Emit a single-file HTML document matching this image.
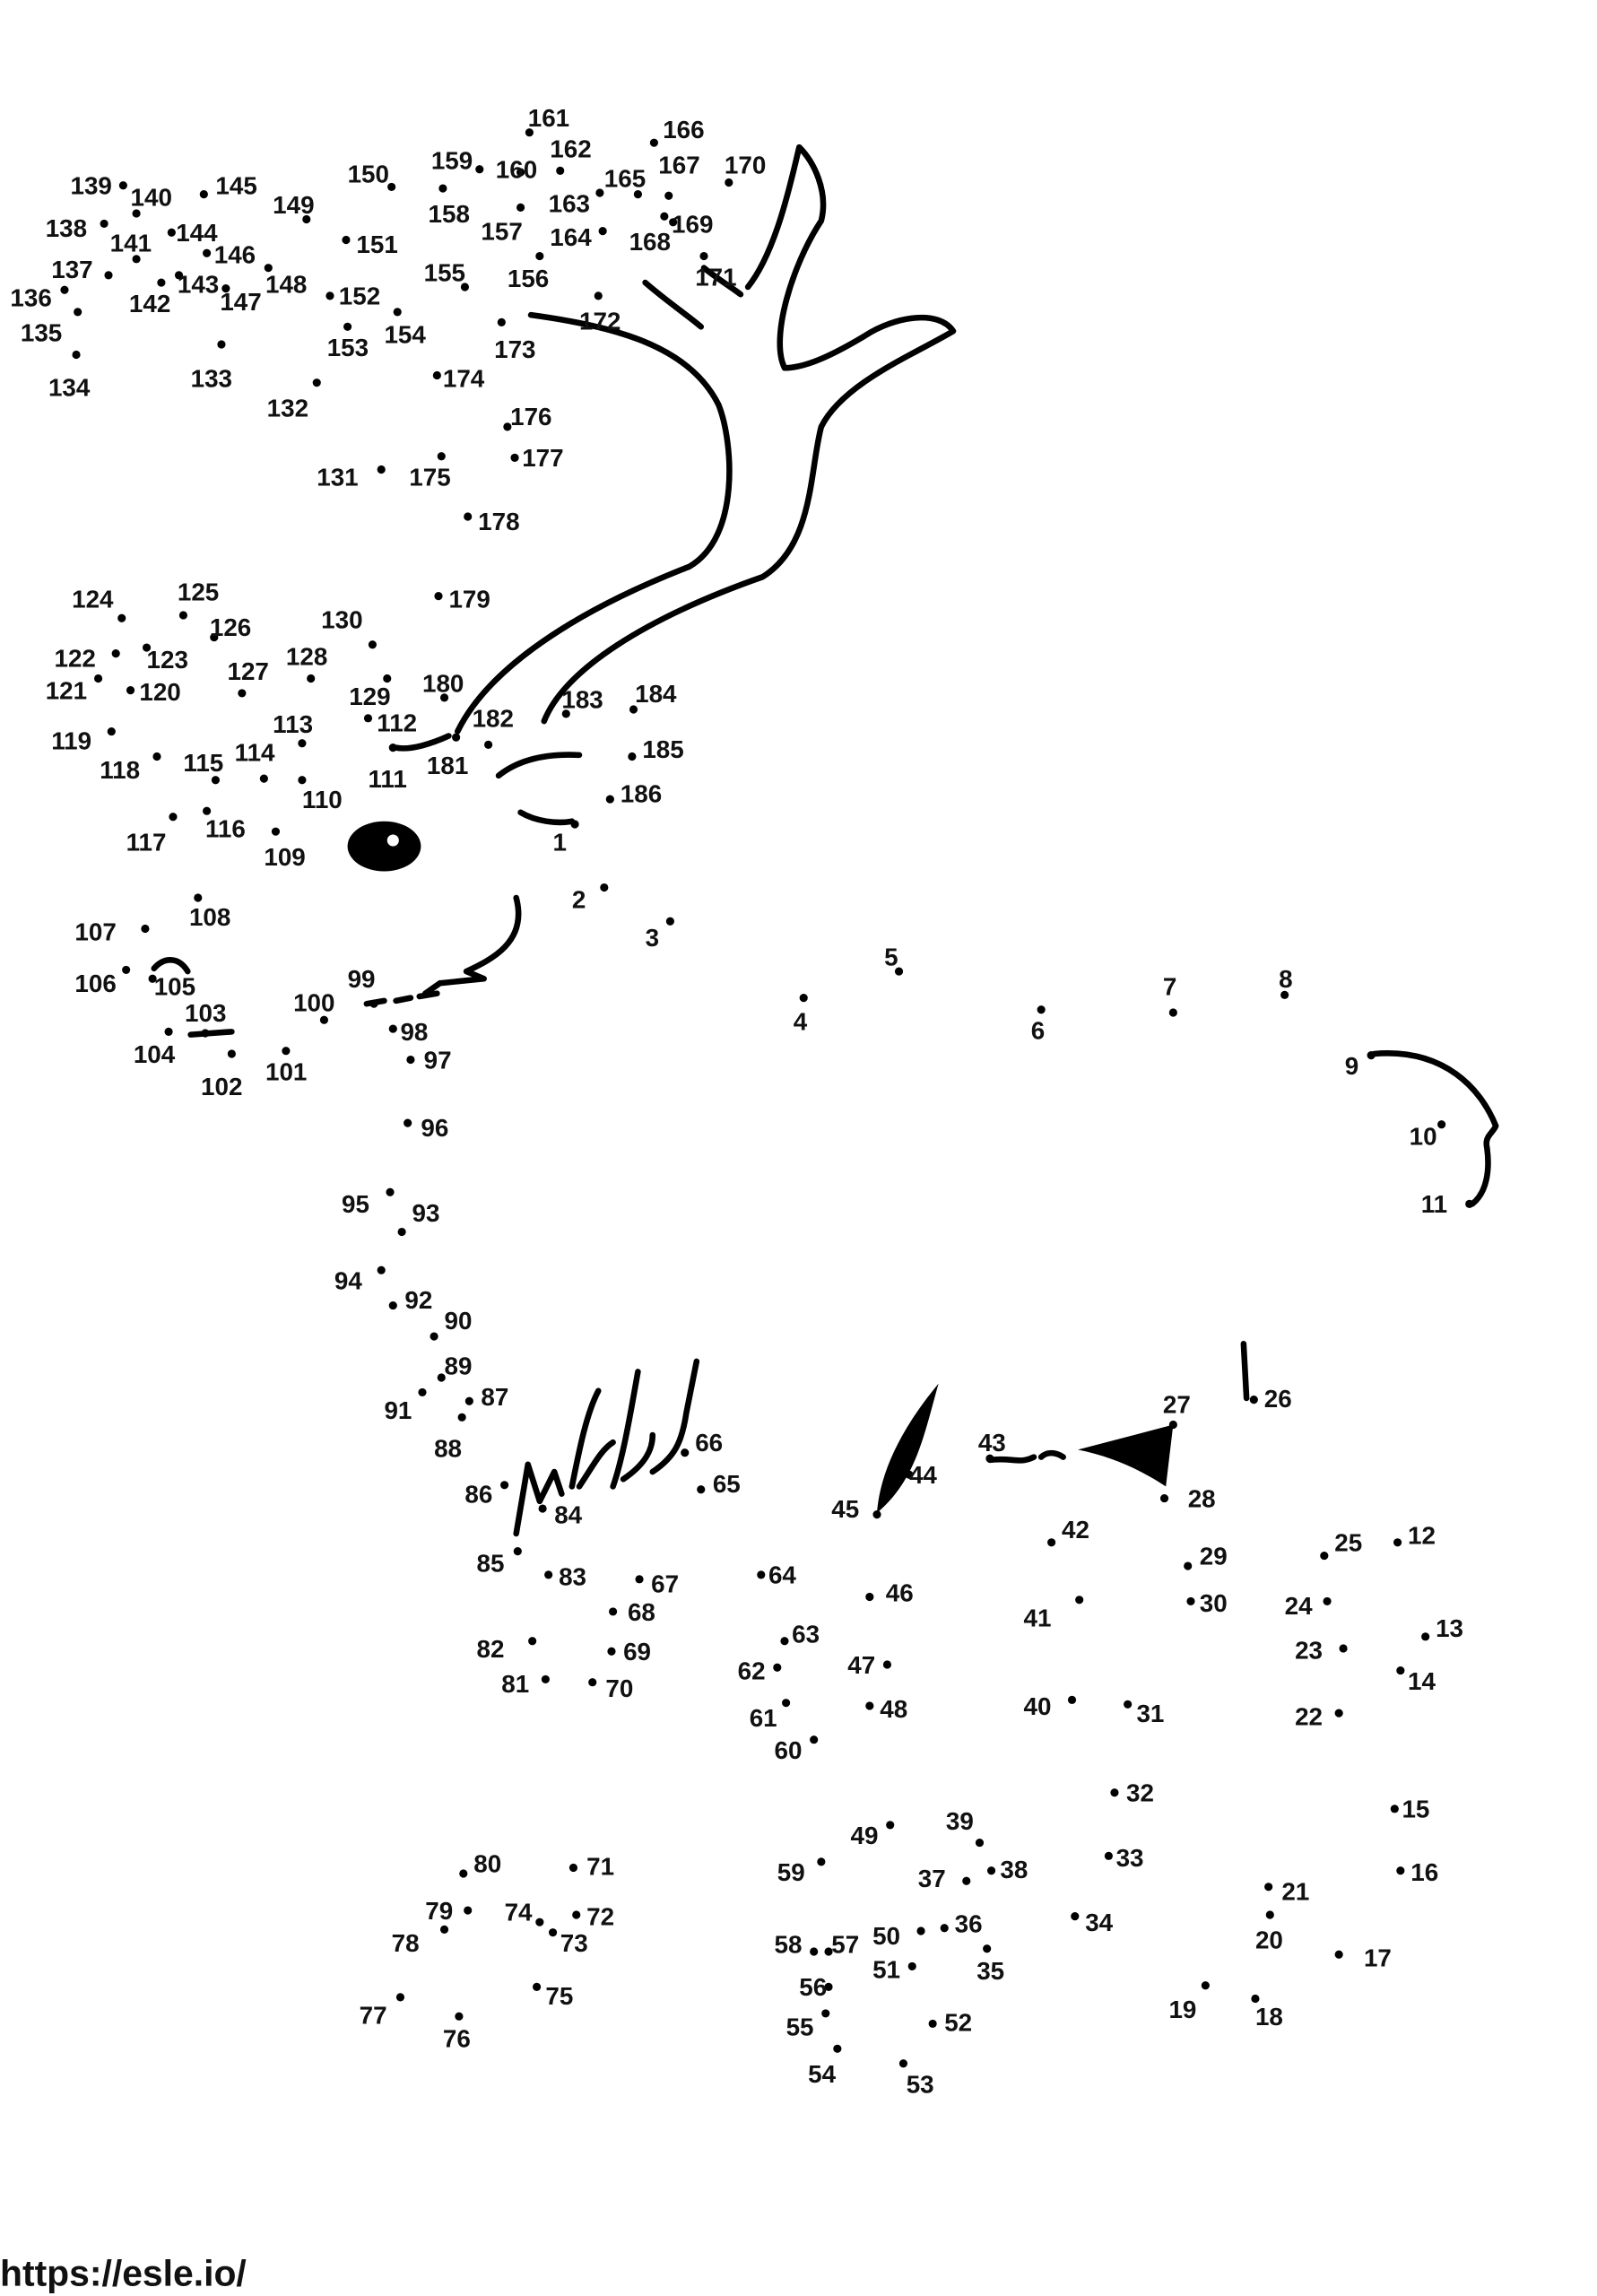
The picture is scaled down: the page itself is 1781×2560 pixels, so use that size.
<!DOCTYPE html>
<html><head><meta charset="utf-8"><style>
html,body{margin:0;padding:0;background:#fff;}
svg{display:block;}
text{font-family:"Liberation Sans",sans-serif;font-weight:bold;font-size:17px;fill:#111;}
</style></head><body>
<svg width="1781" height="2560" viewBox="0 0 1089 1560" preserveAspectRatio="none" xmlns="http://www.w3.org/2000/svg">
<rect width="1089" height="1560" fill="#fff"/>
<g fill="none" stroke="#000" stroke-width="4" stroke-linecap="round" stroke-linejoin="round">
<path d="M312,497 C330,460 380,420 470,385 C505,365 500,300 490,275 C470,235 420,222 362,214"/>
<path d="M371,490 C385,455 440,420 520,392 C555,370 552,320 560,290 C575,260 625,240 650,225 C640,210 610,215 590,228 C570,240 550,250 535,250 C525,230 540,180 560,150 C565,130 555,110 545,100 C540,120 530,170 510,195"/>
<path d="M440,192 C455,205 470,215 478,222 M480,182 C490,190 500,196 505,200"/>
<path d="M340,527 C355,515 375,512 395,513"/>
<path d="M355,552 C365,558 380,560 390,558"/>
<path d="M352,610 C360,640 335,652 318,660 M318,660 L330,665 L300,668 M300,668 L290,675"/>
<path d="M250,682 L262,680 M270,680 L280,678 M286,677 L298,675"/>
<path d="M105,658 C112,650 122,650 128,660"/>
<path d="M130,703 L158,701"/>
<path d="M270,508 C280,510 295,505 306,500"/>
<path d="M937,716 C985,712 1010,740 1020,765 C1018,770 1012,772 1014,780 C1016,795 1014,810 1004,818"/>
<path d="M848,913 L850,950"/>
<path d="M352,1042 L360,995 L368,1020 L378,1000 L383,1015 M390,1010 C395,985 400,960 408,945 M395,1010 C405,995 410,985 418,980 M418,1010 C425,990 430,960 435,932 M425,1005 C440,995 445,985 445,975 M445,1000 C460,990 465,980 468,960 L475,925"/>
<path d="M675,992 C690,990 695,995 705,990 M710,990 C715,985 722,988 725,990"/>
</g>
<path d="M598,1028 C600,1000 615,970 640,940 C630,975 625,1005 598,1028 Z" fill="#000"/>
<path d="M735,985 L800,968 L795,1010 C780,1000 760,990 735,985 Z" fill="#000"/>
<ellipse cx="262" cy="575" rx="25" ry="17" fill="#000"/>
<circle cx="268" cy="571" r="4" fill="#fff"/>
<g fill="#000" id="dots"></g>
<g id="labels"></g>
<text x="0" y="1553" style="font-size:25px;font-weight:bold">https://esle.io/</text>
</svg>
<script>
var d=[[1,392,560,377,578],[2,412,603,390,617],[3,457,626,440,643],[4,548,678,541,700],[5,613,660,603,656],[6,710,686,703,706],[7,800,688,793,676],[8,876,676,872,671],[9,935,717,917,730],[10,983,764,961,778],[11,1002,818,969,824],[12,953,1048,960,1049],[13,972,1112,979,1112],[14,955,1135,960,1148],[15,951,1229,956,1235],[16,955,1271,962,1278],[17,913,1328,930,1336],[18,856,1358,856,1376],[19,822,1349,797,1371],[20,866,1301,856,1324],[21,865,1282,874,1291],[22,913,1164,883,1172],[23,916,1120,883,1127],[24,905,1088,876,1097],[25,903,1057,910,1054],[26,855,951,862,956],[27,800,968,793,960],[28,794,1018,810,1024],[29,810,1064,818,1063],[30,812,1088,818,1095],[31,769,1158,775,1170],[32,760,1218,768,1224],[33,756,1261,761,1268],[34,733,1302,740,1312],[35,673,1324,666,1345],[36,644,1310,651,1313],[37,659,1278,626,1282],[38,676,1271,682,1276],[39,668,1252,645,1243],[40,731,1155,698,1165],[41,736,1087,698,1105],[42,717,1048,724,1045],[43,675,991,667,986],[44,620,1002,620,1008],[45,598,1029,567,1031],[46,593,1085,604,1088],[47,605,1131,578,1137],[48,593,1159,600,1167],[49,607,1240,580,1253],[50,628,1312,595,1321],[51,622,1336,595,1344],[52,636,1375,644,1380],[53,616,1402,618,1422],[54,571,1392,551,1415],[55,563,1368,536,1383],[56,565,1350,545,1356],[57,565,1326,567,1327],[58,555,1326,528,1327],[59,560,1265,530,1278],[60,555,1182,528,1195],[61,536,1157,511,1173],[62,530,1133,503,1141],[63,535,1115,540,1116],[64,519,1070,524,1076],[65,478,1012,486,1014],[66,467,987,474,986],[67,436,1073,444,1082],[68,418,1095,428,1101],[69,417,1122,425,1128],[70,404,1143,413,1153],[71,391,1269,400,1274],[72,393,1301,400,1308],[73,377,1313,382,1326],[74,368,1306,344,1305],[75,366,1350,372,1362],[76,313,1370,302,1391],[77,273,1357,245,1375],[78,303,1311,267,1326],[79,319,1298,290,1304],[80,316,1273,323,1272],[81,372,1141,342,1150],[82,363,1115,325,1126],[83,374,1070,381,1077],[84,370,1025,378,1035],[85,353,1054,325,1068],[86,344,1009,317,1021],[87,320,952,328,955],[88,315,963,296,990],[89,301,936,303,934],[90,296,908,303,903],[91,288,946,262,964],[92,268,887,276,889],[93,274,837,281,830],[94,260,863,228,876],[95,266,810,233,824],[96,278,763,287,772],[97,280,720,289,726],[98,268,699,273,707],[99,255,682,237,671],[100,221,693,200,687],[101,195,714,181,734],[102,158,716,137,744],[103,140,702,126,694],[104,115,701,91,722],[105,104,665,105,676],[106,86,659,51,674],[107,99,631,51,639],[108,135,610,129,629],[109,188,565,180,588],[110,206,530,206,549],[111,268,508,251,535],[112,251,488,257,497],[113,206,505,186,498],[114,180,529,160,517],[115,147,530,125,524],[116,141,551,140,569],[117,118,555,86,578],[118,107,514,68,529],[119,76,497,35,509],[120,89,469,95,476],[121,67,461,31,475],[122,79,444,37,453],[123,100,440,100,454],[124,83,420,49,413],[125,125,418,121,408],[126,146,433,143,432],[127,165,471,155,462],[128,212,461,195,452],[129,264,461,238,479],[130,254,438,219,427],[131,260,319,216,330],[132,216,260,182,283],[133,151,234,130,263],[134,52,241,33,269],[135,53,212,14,232],[136,44,197,7,208],[137,74,187,35,189],[138,71,152,31,161],[139,84,126,48,132],[140,93,145,89,140],[141,93,176,75,171],[142,110,192,88,212],[143,122,187,121,199],[144,117,158,120,164],[145,139,132,147,132],[146,141,172,146,179],[147,154,196,150,211],[148,183,182,181,199],[149,209,149,186,145],[150,267,127,237,124],[151,236,163,243,172],[152,225,201,231,207],[153,237,222,223,242],[154,271,212,262,233],[155,317,195,289,191],[156,368,174,346,195],[157,355,141,328,163],[158,302,128,292,151],[159,327,115,294,115],[160,355,117,338,121],[161,361,90,360,86],[162,382,116,375,107],[163,409,131,374,144],[164,411,157,375,167],[165,435,132,412,127],[166,446,97,452,94],[167,456,133,449,118],[168,459,151,429,170],[169,453,147,458,158],[170,497,124,494,118],[171,480,174,474,194],[172,408,201,395,224],[173,342,219,337,243],[174,298,255,302,263],[175,301,310,279,330],[176,346,290,348,289],[177,351,311,356,317],[178,319,351,326,360],[179,299,405,306,413],[180,303,474,288,470],[181,311,501,291,526],[182,333,506,322,494],[183,386,485,383,481],[184,432,482,433,477],[185,431,514,438,515],[186,416,543,423,545]];
var ns="http://www.w3.org/2000/svg",g=document.getElementById("dots"),l=document.getElementById("labels");
d.forEach(function(p){var c=document.createElementNS(ns,"circle");c.setAttribute("cx",p[1]);c.setAttribute("cy",p[2]);c.setAttribute("r",2.8);g.appendChild(c);
var t=document.createElementNS(ns,"text");t.setAttribute("x",p[3]);t.setAttribute("y",p[4]);t.textContent=p[0];l.appendChild(t);});
</script>
</body></html>
